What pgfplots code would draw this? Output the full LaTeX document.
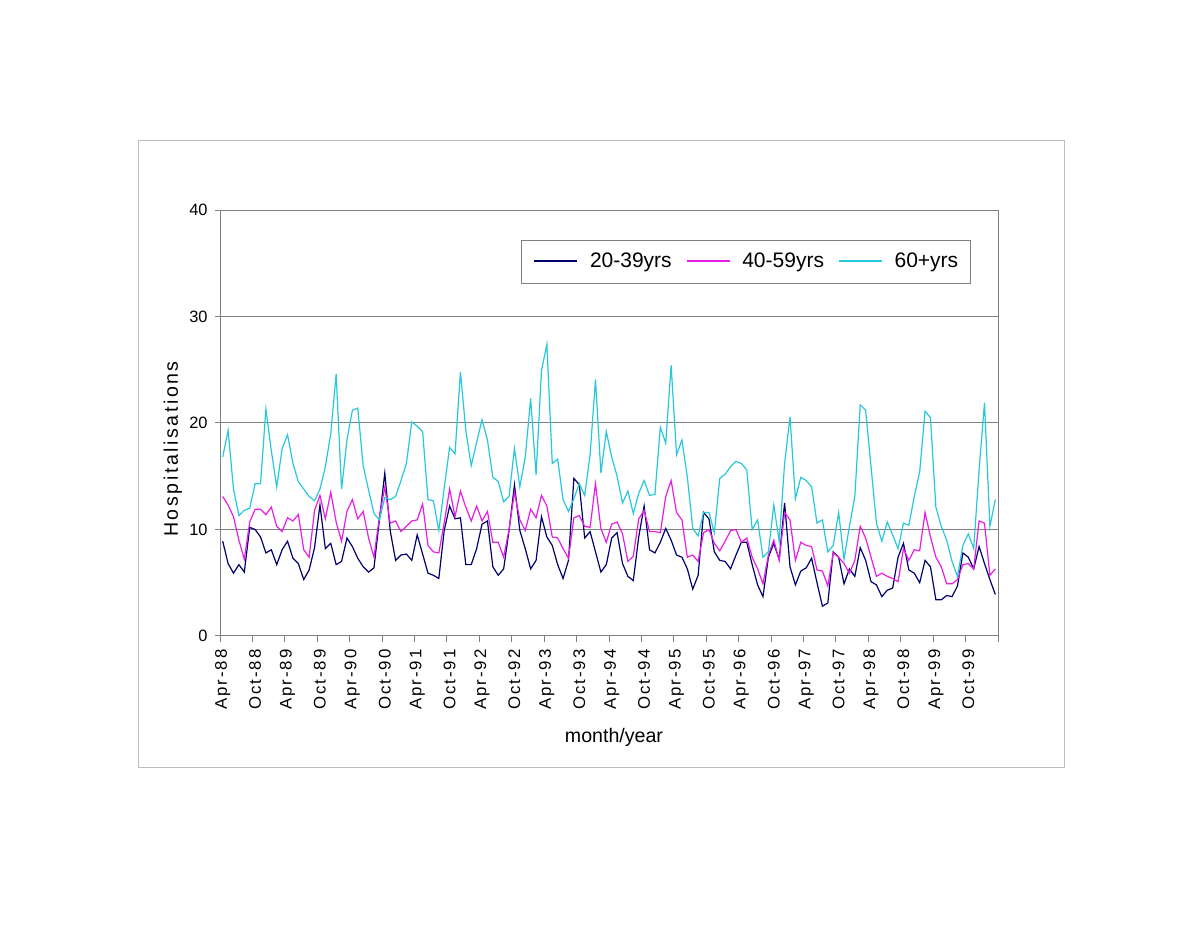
\documentclass[border=0pt]{standalone}
\usepackage{fontspec}
\setmainfont{Liberation Sans}
\usepackage{pgfplots}
\usepackage{pgfplotstable}
\pgfplotsset{compat=1.18}

\definecolor{navyline}{RGB}{0,0,110}
\definecolor{magline}{RGB}{230,30,230}
\definecolor{cyanline}{RGB}{40,200,220}
\definecolor{framegray}{RGB}{190,190,190}
\definecolor{axisgray}{RGB}{128,128,128}

% month index (0 = Apr-88), 20-39yrs, 40-59yrs, 60+yrs
\pgfplotstableread{
i young mid old
0 8.9 13.1 16.8
1 6.8 12.3 19.3
2 5.9 11.2 13.8
3 6.7 9.0 11.3
4 6.0 7.2 11.8
5 10.2 10.7 12.0
6 10.0 11.9 14.3
7 9.3 11.9 14.3
8 7.8 11.4 21.3
9 8.1 12.1 17.4
10 6.7 10.3 14.0
11 8.1 9.8 17.6
12 8.9 11.1 18.9
13 7.3 10.8 16.2
14 6.8 11.4 14.5
15 5.3 8.1 13.8
16 6.2 7.4 13.1
17 8.3 11.8 12.7
18 12.3 13.2 13.8
19 8.2 11.0 15.9
20 8.7 13.5 19.0
21 6.7 10.7 24.6
22 7.0 8.9 13.8
23 9.2 11.7 18.4
24 8.4 12.8 21.2
25 7.3 11.0 21.4
26 6.5 11.7 16.0
27 6.0 9.2 13.7
28 6.4 7.4 11.5
29 10.9 11.2 10.9
30 15.3 14.0 13.0
31 9.9 10.6 12.8
32 7.1 10.8 13.1
33 7.6 9.8 14.6
34 7.7 10.3 16.2
35 7.1 10.8 20.1
36 9.5 10.9 19.7
37 7.7 12.4 19.2
38 5.9 8.5 12.8
39 5.7 7.9 12.7
40 5.4 7.8 9.9
41 9.9 10.6 13.9
42 12.2 13.8 17.7
43 11.0 11.2 17.1
44 11.1 13.6 24.8
45 6.7 12.1 19.3
46 6.7 10.8 16.0
47 8.2 12.2 18.2
48 10.5 10.8 20.3
49 10.8 11.7 18.4
50 6.5 8.8 14.9
51 5.7 8.8 14.5
52 6.3 7.4 12.6
53 9.9 10.0 13.1
54 14.2 13.5 17.6
55 9.9 10.9 14.0
56 8.2 9.9 16.8
57 6.3 11.9 22.3
58 7.1 11.1 15.1
59 11.2 13.2 24.9
60 9.3 12.2 27.4
61 8.5 9.3 16.2
62 6.7 9.2 16.6
63 5.4 8.2 12.8
64 7.1 7.3 11.7
65 14.8 11.1 12.9
66 14.2 11.3 14.3
67 9.2 10.3 13.2
68 9.8 10.2 17.0
69 7.9 14.3 24.1
70 6.0 10.1 15.3
71 6.7 8.8 19.2
72 9.2 10.5 16.8
73 9.7 10.7 15.0
74 6.8 9.6 12.5
75 5.6 7.0 13.6
76 5.2 7.5 11.5
77 9.3 11.0 13.4
78 12.2 11.8 14.6
79 8.1 9.8 13.2
80 7.8 9.8 13.3
81 8.8 9.7 19.6
82 10.1 13.1 18.1
83 9.0 14.6 25.4
84 7.6 11.6 17.0
85 7.4 10.9 18.4
86 6.3 7.4 14.9
87 4.4 7.6 10.1
88 5.7 7.0 9.4
89 11.6 9.7 11.6
90 11.0 10.0 11.6
91 7.9 8.7 9.7
92 7.1 8.0 14.8
93 7.0 8.9 15.2
94 6.3 9.9 15.9
95 7.6 10.0 16.4
96 8.8 8.8 16.2
97 8.8 9.2 15.6
98 6.7 7.4 10.0
99 4.8 6.3 10.9
100 3.7 4.9 7.4
101 7.4 7.6 7.9
102 8.7 9.0 12.3
103 7.2 7.1 8.9
104 12.5 11.6 16.2
105 6.5 10.9 20.6
106 4.8 7.1 12.9
107 6.1 8.8 14.9
108 6.4 8.5 14.6
109 7.3 8.4 14.0
110 5.0 6.2 10.6
111 2.8 6.1 10.9
112 3.1 4.7 7.9
113 7.9 7.8 8.5
114 7.4 7.4 11.6
115 4.9 6.8 7.2
116 6.3 5.9 10.3
117 5.6 7.1 13.1
118 8.3 10.3 21.7
119 7.1 9.2 21.2
120 5.1 7.4 15.9
121 4.8 5.6 10.6
122 3.7 5.9 8.9
123 4.3 5.6 10.7
124 4.5 5.4 9.5
125 7.4 5.1 8.2
126 8.7 8.2 10.6
127 6.2 7.1 10.4
128 5.9 8.1 13.1
129 5.0 8.0 15.4
130 7.1 11.6 21.1
131 6.5 9.3 20.5
132 3.4 7.4 12.1
133 3.4 6.5 10.3
134 3.8 4.9 9.0
135 3.7 4.9 7.0
136 4.7 5.3 5.6
137 7.8 6.7 8.5
138 7.4 6.8 9.6
139 6.3 6.3 8.2
140 8.4 10.8 15.6
141 6.8 10.6 21.9
142 5.3 5.7 10.3
143 3.9 6.3 12.8
}\hosp

\begin{document}
\begin{tikzpicture}
\useasboundingbox (0,0) rectangle (599.5pt,463pt);
\fill[white] (0,0) rectangle (599.5pt,463pt);
\draw[framegray, line width=0.5pt] (69pt,79pt) rectangle (532pt,392.5pt);

\begin{axis}[
  at={(110pt,145pt)}, anchor=south west,
  scale only axis,
  width=389pt, height=213pt,
  xmin=-0.5, xmax=143.5,
  ymin=0, ymax=40,
  axis line style={axisgray, line width=0.5pt},
  /pgf/number format/assume math mode=true,
  tick align=outside,
  xtick pos=bottom, ytick pos=left,
  ytick={0,10,20,30,40},
  ymajorgrids,
  major grid style={axisgray, line width=0.5pt},
  major tick length=2.5pt,
  minor tick length=3pt,
  ytick style={axisgray, line width=0.5pt},
  yticklabel style={font=\fontsize{8.2}{10}\selectfont, inner sep=0pt, xshift=-3.5pt},
  xtick={0,6,...,138},
  xticklabels={Apr-88,Oct-88,Apr-89,Oct-89,Apr-90,Oct-90,Apr-91,Oct-91,Apr-92,Oct-92,Apr-93,Oct-93,Apr-94,Oct-94,Apr-95,Oct-95,Apr-96,Oct-96,Apr-97,Oct-97,Apr-98,Oct-98,Apr-99,Oct-99},
  major x tick style={draw=none},
  minor xtick={-0.5,5.5,...,143.5},
  minor x tick style={axisgray, line width=0.5pt},
  xticklabel style={yshift=-4pt, rotate=90, anchor=east, inner sep=0pt,
    font=\fontsize{8.4}{10}\selectfont\addfontfeatures{LetterSpace=12}},
  xlabel={month/year},
  xlabel style={at={(axis description cs:0.5064,-0.237)}, anchor=center,
    font=\fontsize{9.8}{12}\selectfont},
  ylabel={Hospitalisations},
  ylabel style={at={(axis description cs:-0.0608,0.439)}, anchor=center,
    font=\fontsize{9.8}{12}\selectfont\addfontfeatures{LetterSpace=13}},
  legend columns=3,
  legend style={at={(0.3869,0.9296)}, anchor=north west,
    draw=axisgray, fill=white,
    inner xsep=6pt, inner ysep=0pt,
    font=\fontsize{10.5}{12}\selectfont,
    nodes={inner sep=0pt, minimum height=21.5pt},
    /tikz/every odd column/.append style={column sep=6pt},
    /tikz/every even column/.append style={column sep=7pt}},
]
\addplot[navyline, line width=0.6pt,
  legend image code/.code={\draw[draw=navyline, line width=0.8pt] (0pt,0.3pt) -- (21.5pt,0.3pt);}]
  table[x=i, y=young] {\hosp};
\addlegendentry{20-39yrs}
\addplot[magline, line width=0.6pt,
  legend image code/.code={\draw[draw=magline, line width=0.8pt] (0pt,0.3pt) -- (21.5pt,0.3pt);}]
  table[x=i, y=mid] {\hosp};
\addlegendentry{40-59yrs}
\addplot[cyanline, line width=0.6pt,
  legend image code/.code={\draw[draw=cyanline, line width=0.8pt] (0pt,0.3pt) -- (21.5pt,0.3pt);}]
  table[x=i, y=old] {\hosp};
\addlegendentry{60+yrs}
\end{axis}
\end{tikzpicture}
\end{document}
